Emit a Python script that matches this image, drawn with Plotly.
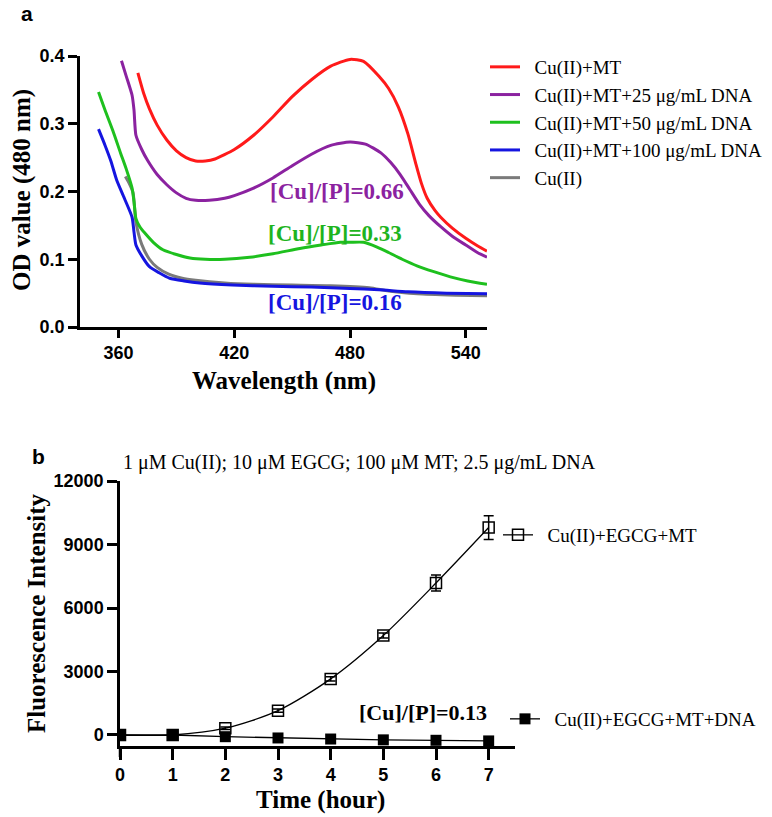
import plotly.graph_objects as go

# ---------------- Panel a data ----------------
wl_red = [370, 373, 376, 380, 385, 390, 395, 400, 405, 410, 420, 430, 440, 450, 460, 470, 480, 487, 495, 500, 505, 510, 514, 517, 520, 524, 527, 533, 540, 546, 551]
od_red = [0.375, 0.345, 0.322, 0.298, 0.276, 0.260, 0.250, 0.245, 0.245, 0.248, 0.262, 0.283, 0.310, 0.340, 0.365, 0.385, 0.395, 0.392, 0.370, 0.352, 0.325, 0.285, 0.242, 0.212, 0.190, 0.172, 0.162, 0.146, 0.131, 0.120, 0.112]

wl_pur = [361.5, 364, 367, 368, 369, 372, 375, 380, 385, 390, 395, 400, 407, 415, 420, 430, 440, 450, 460, 470, 480, 488, 496, 501, 506, 511, 516, 521, 527, 533, 540, 546, 551]
od_pur = [0.393, 0.370, 0.342, 0.320, 0.283, 0.262, 0.246, 0.225, 0.210, 0.198, 0.190, 0.187, 0.187, 0.190, 0.194, 0.205, 0.220, 0.238, 0.255, 0.268, 0.273, 0.270, 0.257, 0.243, 0.225, 0.203, 0.181, 0.164, 0.148, 0.134, 0.121, 0.110, 0.103]

wl_grn = [349.6, 353, 357, 361, 364, 367, 368, 369, 371, 373.5, 378, 383, 390, 397, 405, 415, 428, 440, 454, 465, 475, 480, 487, 494, 500, 507, 515, 523, 532, 541, 551]
od_grn = [0.347, 0.320, 0.290, 0.257, 0.233, 0.205, 0.185, 0.160, 0.148, 0.139, 0.125, 0.114, 0.107, 0.102, 0.100, 0.100, 0.103, 0.108, 0.116, 0.121, 0.125, 0.125, 0.125, 0.118, 0.110, 0.100, 0.090, 0.082, 0.074, 0.068, 0.063]

wl_blu = [349.6, 353, 356, 359, 363, 367, 368, 369, 372, 376, 381, 386.5, 394, 402, 419, 440, 460, 480, 495, 510, 530, 551]
od_blu = [0.292, 0.268, 0.245, 0.217, 0.190, 0.162, 0.140, 0.121, 0.105, 0.089, 0.080, 0.072, 0.068, 0.065, 0.062, 0.060, 0.059, 0.057, 0.055, 0.052, 0.050, 0.049]

wl_gry = [363.5, 365.5, 367.5, 369, 372, 376, 380, 386, 393, 400, 415, 430, 450, 470, 490, 500, 515, 535, 551]
od_gry = [0.222, 0.212, 0.198, 0.155, 0.122, 0.100, 0.088, 0.078, 0.072, 0.069, 0.065, 0.063, 0.062, 0.061, 0.058, 0.053, 0.049, 0.047, 0.046]

names_a = ["Cu(II)+MT", "Cu(II)+MT+25 μg/mL DNA", "Cu(II)+MT+50 μg/mL DNA",
           "Cu(II)+MT+100 μg/mL DNA", "Cu(II)"]
colors_a = ["#FF1A1A", "#8B22A0", "#1EC01E", "#1515E0", "#7A7A7A"]

a_xticks = [360, 420, 480, 540]
a_yticks = [0.0, 0.1, 0.2, 0.3, 0.4]
ratio_a = ["[Cu]/[P]=0.66", "[Cu]/[P]=0.33", "[Cu]/[P]=0.16"]

# ---------------- Panel b data ----------------
hours = [0, 1, 2, 3, 4, 5, 6, 7]
fl_mt = [0, 0, 320, 1150, 2650, 4700, 7180, 9800]
fl_mt_err = [0, 0, 60, 80, 100, 120, 380, 560]
fl_dna = [0, 0, -80, -140, -190, -230, -250, -280]
names_b = ["Cu(II)+EGCG+MT", "Cu(II)+EGCG+MT+DNA"]
b_yticks = [0, 3000, 6000, 9000, 12000]
b_title = "1 μM Cu(II); 10 μM EGCG; 100 μM MT; 2.5 μg/mL DNA"
ratio_b = "[Cu]/[P]=0.13"

W, H = 772, 817
SERIF = "Liberation Serif, Times New Roman, serif"
SANS = "Liberation Sans, Arial, sans-serif"
GAP = "\u00a0\u00a0"  # small gap between legend symbol and label


def px(x):
    return x / W


def py(y):
    return 1 - y / H


fig = go.Figure()

series_a = [(wl_red, od_red), (wl_pur, od_pur), (wl_grn, od_grn), (wl_blu, od_blu), (wl_gry, od_gry)]
order = [4, 2, 3, 1, 0]
for i in order:
    xs, ys = series_a[i]
    fig.add_trace(go.Scatter(
        x=xs, y=ys, mode="lines", name=GAP + names_a[i],
        line=dict(color=colors_a[i], width=3, shape="spline", smoothing=0.6),
        xaxis="x", yaxis="y", legend="legend", legendrank=i + 1,
    ))

fig.add_trace(go.Scatter(
    x=hours, y=fl_mt, mode="lines+markers", name=GAP + names_b[0],
    line=dict(color="black", width=1.3, shape="spline", smoothing=0.8),
    marker=dict(symbol="square-open", size=11, color="black", line=dict(width=1.5)),
    error_y=dict(type="data", array=fl_mt_err, color="black", thickness=1.5, width=5),
    xaxis="x2", yaxis="y2", legend="legend2",
))
fig.add_trace(go.Scatter(
    x=hours, y=fl_dna, mode="lines+markers", name=GAP + names_b[1],
    line=dict(color="black", width=1.3),
    marker=dict(symbol="square", size=11, color="black"),
    xaxis="x2", yaxis="y2", legend="legend3",
))

axis_common = dict(
    showgrid=False, zeroline=False, showline=True, linecolor="black", linewidth=2.5,
    ticks="outside", tickcolor="black", tickwidth=2.5, automargin=False,
    tickfont=dict(family=SANS, size=18, color="black", weight="bold"),
)

legend_font = dict(family=SERIF, size=19, color="black")

fig.update_layout(
    width=W, height=H, autosize=False,
    margin=dict(l=0, r=0, t=0, b=0, pad=0, autoexpand=False),
    paper_bgcolor="white", plot_bgcolor="white",
    xaxis=dict(domain=[px(80), px(487)], range=[340, 551], tickvals=a_xticks,
               ticklen=8, anchor="y", **axis_common),
    yaxis=dict(domain=[py(327), py(56)], range=[0, 0.4], tickvals=a_yticks,
               tickformat=".1f", ticklen=9, anchor="x", **axis_common),
    xaxis2=dict(domain=[px(120), px(515)], range=[0, 7.5], tickvals=hours,
                ticklen=11, anchor="y2", **axis_common),
    yaxis2=dict(domain=[py(746), py(481)], range=[-520, 12000], tickvals=b_yticks,
                tickformat="d", ticklen=10, anchor="x2", **axis_common),
    legend=dict(x=px(485), y=py(48), xanchor="left", yanchor="top",
                font=legend_font, bgcolor="rgba(0,0,0,0)", itemwidth=30, tracegroupgap=0),
    legend2=dict(x=px(498), y=py(535), xanchor="left", yanchor="middle",
                 font=legend_font, bgcolor="rgba(0,0,0,0)", itemwidth=30),
    legend3=dict(x=px(505), y=py(719), xanchor="left", yanchor="middle",
                 font=legend_font, bgcolor="rgba(0,0,0,0)", itemwidth=30),
    showlegend=True,
)

fig.add_shape(type="line", xref="x2 domain", yref="paper", x0=0, x1=0,
              y0=py(746), y1=py(757), line=dict(color="black", width=2.5))

ann = []
ann.append(dict(text="a", x=px(27), y=py(14), font=dict(family=SANS, size=21, weight="bold")))
ann.append(dict(text="b", x=px(38), y=py(456), font=dict(family=SANS, size=21, weight="bold")))
ann.append(dict(text="Wavelength (nm)", x=px(284), y=py(381), font=dict(family=SERIF, size=25, weight="bold")))
ann.append(dict(text="OD value (480 nm)", x=px(22), y=py(190), textangle=-90, font=dict(family=SERIF, size=25, weight="bold")))
ann.append(dict(text="Time (hour)", x=px(320), y=py(800), font=dict(family=SERIF, size=25, weight="bold")))
ann.append(dict(text="Fluorescence Intensity", x=px(36), y=py(613), textangle=-90, font=dict(family=SERIF, size=25, weight="bold")))
ann.append(dict(text=ratio_a[0], x=px(337), y=py(191), font=dict(family=SERIF, size=23, weight="bold", color=colors_a[1])))
ann.append(dict(text=ratio_a[1], x=px(335), y=py(234), font=dict(family=SERIF, size=23, weight="bold", color="#1EB41E")))
ann.append(dict(text=ratio_a[2], x=px(335), y=py(303), font=dict(family=SERIF, size=23, weight="bold", color=colors_a[3])))
ann.append(dict(text=ratio_b, x=px(423), y=py(712), font=dict(family=SERIF, size=22, weight="bold")))
ann.append(dict(text=b_title, x=px(359), y=py(462), font=dict(family=SERIF, size=20)))

for a in ann:
    a.setdefault("xref", "paper")
    a.setdefault("yref", "paper")
    a.setdefault("showarrow", False)
    a.setdefault("xanchor", "center")
    a.setdefault("yanchor", "middle")
    a["font"].setdefault("color", "black")
    fig.add_annotation(**a)

fig.write_html(
    "out.html",
    config={"displayModeBar": False},
    post_script=("document.documentElement.style.margin='0';"
                 "document.body.style.margin='0';"
                 "document.body.style.overflow='hidden';"
                 "document.documentElement.style.overflow='hidden';"),
)
